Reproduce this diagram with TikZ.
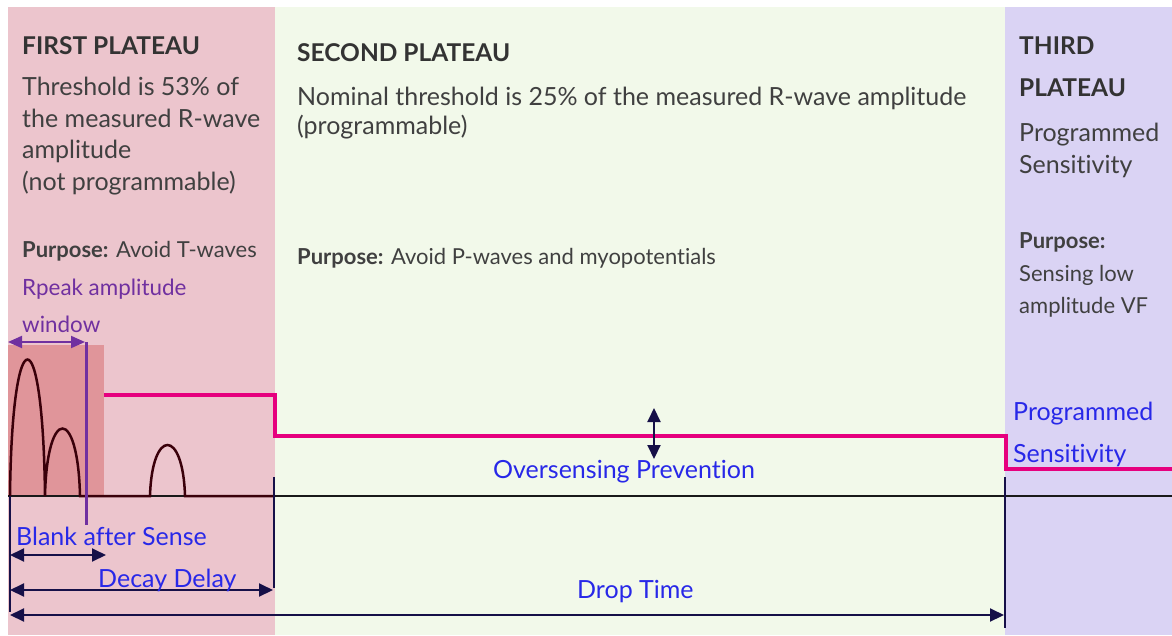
\documentclass[tikz,border=0pt]{standalone}
\usepackage{fontspec}
\setmainfont{Lato}[Ligatures={NoCommon}]
\usetikzlibrary{arrows.meta}
\definecolor{pinkbg}{RGB}{236,197,205}
\definecolor{greenbg}{RGB}{242,249,234}
\definecolor{purplebg}{RGB}{218,211,244}
\definecolor{redbox}{RGB}{224,149,154}
\definecolor{textgray}{RGB}{64,64,64}
\definecolor{headgray}{RGB}{51,51,51}
\definecolor{lblblue}{RGB}{40,40,232}
\definecolor{violet}{RGB}{112,48,160}
\definecolor{navy}{RGB}{22,16,72}
\definecolor{maroon}{RGB}{58,0,10}
\definecolor{magentaline}{RGB}{230,0,126}
\begin{document}
\begin{tikzpicture}[x=1pt,y=-1pt,
  txt/.style={inner sep=0pt,anchor=base west,text=textgray,font=\fontsize{25}{25}\selectfont},
  head/.style={inner sep=0pt,anchor=base west,text=headgray,font=\fontsize{24.5}{24.5}\selectfont\bfseries},
  purp/.style={inner sep=0pt,anchor=base west,text=textgray,font=\fontsize{22}{22}\selectfont},
  lbl/.style={inner sep=0pt,anchor=base west,text=lblblue,font=\fontsize{25}{25}\selectfont},
  vlbl/.style={inner sep=0pt,anchor=base west,text=violet,font=\fontsize{22.4}{22.4}\selectfont},
  dim/.style={draw=navy,line width=2pt,{Triangle[length=14pt,width=13pt]}-{Triangle[length=14pt,width=13pt]}},
  tick/.style={draw=navy,line width=2pt},
  wave/.style={draw=maroon,line width=2.5pt},
  thresh/.style={draw=magentaline,line width=3.2pt},
]
\useasboundingbox (0,0) rectangle (1172,635);
\fill[white] (0,0) rectangle (1172,635);
\fill[pinkbg] (8,7) rectangle (275,635);
\fill[greenbg] (275,7) rectangle (1005,635);
\fill[purplebg] (1005,7) rectangle (1172,635);
\fill[redbox] (8,345) rectangle (104,497);

% first plateau texts
\node[head] (h1) at (22,54) {FIRST PLATEAU};
\node[txt] (t1a) at (22,95) {Threshold is 53\% of};
\node[txt] (t1b) at (22,127) {the measured R-wave};
\node[txt] (t1c) at (22,158) {amplitude};
\node[txt] (t1d) at (22,190) {(not programmable)};
\node[purp] (p1) at (22,257) {\textbf{Purpose:} Avoid T-waves};
\node[vlbl] (rp1) at (22,295) {Rpeak amplitude};
\node[vlbl] (rp2) at (22,332) {window};

% second plateau texts
\node[head] (h2) at (297,61) {SECOND PLATEAU};
\node[txt] (t2a) at (297,105) {Nominal threshold is 25\% of the measured R-wave amplitude};
\node[txt] (t2b) at (297,134) {(programmable)};
\node[purp] (p2) at (297,264) {\textbf{Purpose:} Avoid P-waves and myopotentials};

% third plateau texts
\node[head] (h3a) at (1019,54) {THIRD};
\node[head] (h3b) at (1019,96) {PLATEAU};
\node[txt] (t3a) at (1019,141) {Programmed};
\node[txt] (t3b) at (1019,173) {Sensitivity};
\node[purp] (p3) at (1019,248) {\textbf{Purpose:}};
\node[purp] (p3b) at (1019,281) {Sensing low};
\node[purp] (p3c) at (1019,313) {amplitude VF};

% baseline
\coordinate (b0) at (8,496);
\coordinate (b1) at (1172,496);
\draw[draw=black!90,line width=2pt] (b0) -- (b1);

% waveform
\draw[wave] (10,496) .. controls (12,314) and (43,314) .. (45,496)
  .. controls (47,406) and (78,406) .. (80,496) -- (150,496)
  .. controls (152,428) and (183,428) .. (185,496) -- (275,496);

% threshold
\coordinate (th0) at (104,395);
\coordinate (th1) at (275,395);
\coordinate (th2) at (275,436);
\coordinate (th3) at (1006,436);
\coordinate (th4) at (1006,469);
\coordinate (th5) at (1172,469);
\draw[thresh] (th0) -- (th1) -- (th2) -- (th3) -- (th4) -- (th5);

% Rpeak window
\coordinate (rw0) at (8,342);
\coordinate (rw1) at (85,342);
\draw[draw=violet,line width=2pt,{Triangle[length=14pt,width=12pt]}-{Triangle[length=14pt,width=12pt]}] (rw0) -- (rw1);
\coordinate (pv0) at (86,342);
\coordinate (pv1) at (86,525);
\draw[draw=violet,line width=3pt] (pv0) -- (pv1);

% vertical ticks
\coordinate (v0a) at (10,496);
\coordinate (v0b) at (10,612);
\coordinate (v1a) at (274,477);
\coordinate (v1b) at (274,588);
\coordinate (v2a) at (1005,477);
\coordinate (v2b) at (1005,628);
\draw[tick] (v0a) -- (v0b);
\draw[tick] (v1a) -- (v1b);
\draw[tick] (v2a) -- (v2b);

% dimension arrows
\coordinate (ba0) at (10,555);
\coordinate (ba1) at (106,555);
\draw[dim] (ba0) -- (ba1);
\coordinate (dd0) at (10,590);
\coordinate (dd1) at (273,590);
\draw[dim] (dd0) -- (dd1);
\coordinate (dt0) at (10,615);
\coordinate (dt1) at (1004,615);
\draw[dim] (dt0) -- (dt1);
\coordinate (os0) at (654,408);
\coordinate (os1) at (654,459);
\draw[dim] (os0) -- (os1);

% labels
\node[lbl] (lb1) at (16,545) {Blank after Sense};
\node[lbl] (lb2) at (98,587) {Decay Delay};
\node[lbl] (lb3) at (577,598) {Drop Time};
\node[lbl] (lb4) at (493,478) {Oversensing Prevention};
\node[lbl] (lb5) at (1013,420) {Programmed};
\node[lbl] (lb6) at (1013,462) {Sensitivity};
\end{tikzpicture}
\end{document}
